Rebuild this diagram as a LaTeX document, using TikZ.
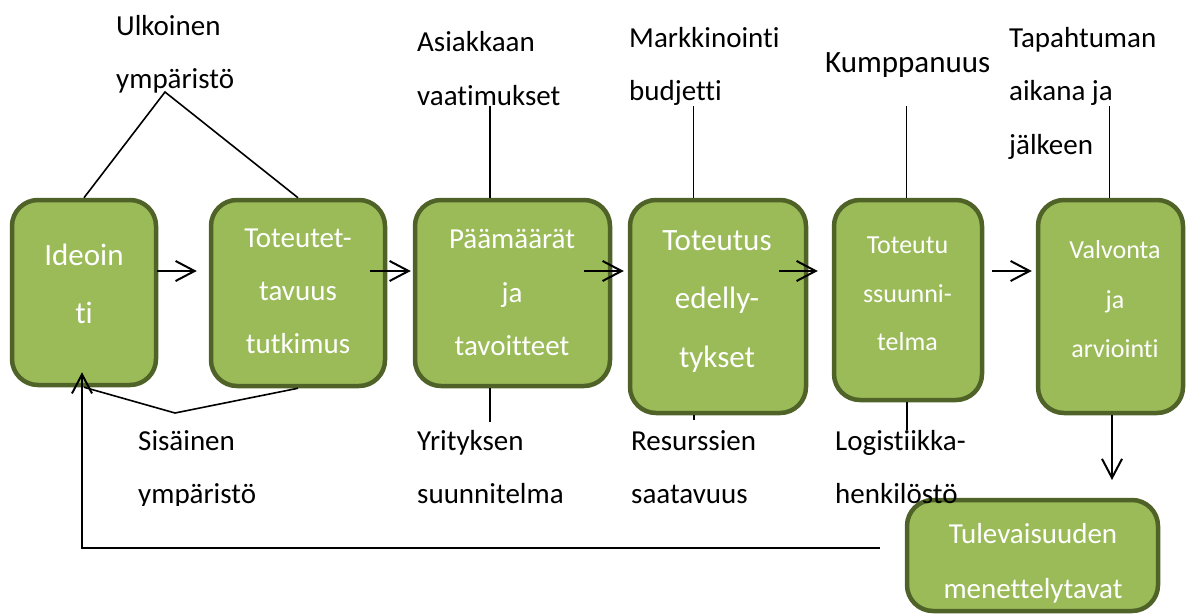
\documentclass[tikz,border=0pt]{standalone}
\usepackage{fontspec}
\setmainfont{Carlito}[Ligatures={NoCommon,NoRequired,NoContextual}]
\usetikzlibrary{arrows.meta,calc}
\definecolor{boxfill}{HTML}{9BBB59}
\definecolor{boxline}{HTML}{4F6228}
\begin{document}
\begin{tikzpicture}[x=1pt,y=-1pt,
  box/.style={draw=boxline, fill=boxfill, line width=4.5pt, rounded corners=26pt, inner sep=0pt},
  wt/.style={text=white, inner sep=0pt, anchor=base, font=\fontsize{29}{29}\selectfont},
  wtl/.style={wt, font=\fontsize{31}{31}\selectfont},
  wts/.style={wt, font=\fontsize{26}{26}\selectfont},
  lab/.style={inner sep=0pt, anchor=base west, font=\fontsize{29}{29}\selectfont},
  labl/.style={lab, font=\fontsize{31}{31}\selectfont},
  arr/.style={line width=2pt, -{Straight Barb[length=19pt,width=20pt]}},
  ln/.style={line width=1.6pt}]
\useasboundingbox (0,0) rectangle (1186,615);

% boxes
\node[box, minimum width=144pt, minimum height=185pt] (b1) at (84,292.5) {};
\node[box, minimum width=174pt, minimum height=186pt] (b2) at (298,293) {};
\node[box, minimum width=195pt, minimum height=186pt] (b3) at (512.5,293) {};
\node[box, minimum width=176pt, minimum height=213pt] (b4) at (718,306.5) {};
\node[box, minimum width=148pt, minimum height=200pt] (b5) at (908,300) {};
\node[box, minimum width=145pt, minimum height=213pt] (b6) at (1110.5,306.5) {};
\node[box, minimum width=251pt, minimum height=111pt] (b7) at (1032.5,555.5) {};

% box texts
\node[wtl] (t1a) at (84,265) {Ideoin};
\node[wtl] (t1b) at (84,323) {ti};
\node[wt] (t2a) at (298,247) {Toteutet-};
\node[wt] (t2b) at (298,300) {tavuus};
\node[wt] (t2c) at (298,353) {tutkimus};
\node[wt] (t3a) at (512,248) {Päämäärät};
\node[wt] (t3b) at (512,302) {ja};
\node[wt] (t3c) at (512,355) {tavoitteet};
\node[wtl] (t4a) at (717,250) {Toteutus};
\node[wtl] (t4b) at (717,308) {edelly-};
\node[wtl] (t4c) at (717,367) {tykset};
\node[wts] (t5a) at (907.5,253) {Toteutu};
\node[wts] (t5b) at (907.5,302) {ssuunni-};
\node[wts] (t5c) at (907.5,350) {telma};
\node[wts] (t6a) at (1115,258) {Valvonta};
\node[wts] (t6b) at (1115,308) {ja};
\node[wts] (t6c) at (1115,357) {arviointi};
\node[wt] (t7a) at (1033,543) {Tulevaisuuden};
\node[wt] (t7b) at (1033,598) {menettelytavat};

% horizontal arrows
\coordinate (ar) at (0,271);
\draw[arr] ($(b1.east|-ar)+(-1,0)$) -- ($(b2.west|-ar)+(-12,0)$);
\draw[arr] ($(b2.east|-ar)+(-17,0)$) -- ($(b3.west|-ar)+(-2,0)$);
\draw[arr] ($(b3.east|-ar)+(-28,0)$) -- ($(b4.west|-ar)+(-4,0)$);
\draw[arr] ($(b4.east|-ar)+(-29,0)$) -- ($(b5.west|-ar)+(-14,0)$);
\draw[arr] ($(b5.east|-ar)+(8,0)$) -- ($(b6.west|-ar)+(-4,0)$);

% down arrow and feedback
\coordinate (dn) at (1112,480);
\draw[arr] (b6.south -| dn) -- (dn);
\coordinate (fb) at (880,548);
\draw[arr] (fb) -| ($(b1.south)+(-2,-15)$);

% environment lines
\coordinate (u) at (165,92);
\draw[ln] (b1.north) -- (u) -- (b2.north);
\coordinate (s) at (175,413);
\draw[ln] (b1.south) -- (s) -- (b2.south);

% vertical lines top
\coordinate (q3) at (490,106);
\coordinate (q4) at (693.5,106);
\coordinate (q5) at (906.5,106);
\coordinate (q6) at (1109.5,106);
\draw[ln] (q3) -- (q3 |- b3.north);
\draw[ln] (q4) -- (q4 |- b4.north);
\draw[ln] (q5) -- (q5 |- b5.north);
\draw[ln] (q6) -- (q6 |- b6.north);
% vertical lines bottom
\coordinate (r3) at (490,422);
\coordinate (r4) at (694,420);
\coordinate (r5) at (907,430);
\draw[ln] (r3 |- b3.south) -- (r3);
\draw[ln] (r4 |- b4.south) -- (r4);
\draw[ln] (r5 |- b5.south) -- (r5);

% top labels
\node[lab] (l1a) at (116,36) {Ulkoinen};
\node[lab] (l1b) at (116,89) {ympäristö};
\node[lab] (l3a) at (417,52) {Asiakkaan};
\node[lab] (l3b) at (417,106) {vaatimukset};
\node[lab] (l4a) at (629,48) {Markkinointi};
\node[lab] (l4b) at (629,101) {budjetti};
\node[labl] (l5a) at (825,73) {Kumppanuus};
\node[lab] (l6a) at (1009,48) {Tapahtuman};
\node[lab] (l6b) at (1009,101) {aikana ja};
\node[lab] (l6c) at (1009,155) {jälkeen};

% bottom labels (clipped)
\begin{scope}
\clip (0,0) rectangle (1186,505);
\node[lab] (m1a) at (138,450) {Sisäinen};
\node[lab] (m1b) at (138,503) {ympäristö};
\node[lab] (m3a) at (417,450) {Yrityksen};
\node[lab] (m3b) at (417,503) {suunnitelma};
\node[lab] (m4a) at (631,450) {Resurssien};
\node[lab] (m4b) at (631,503) {saatavuus};
\node[lab] (m5a) at (835,450) {Logistiikka-};
\node[lab] (m5b) at (835,503) {henkilöstö};
\end{scope}
\end{tikzpicture}
\end{document}
